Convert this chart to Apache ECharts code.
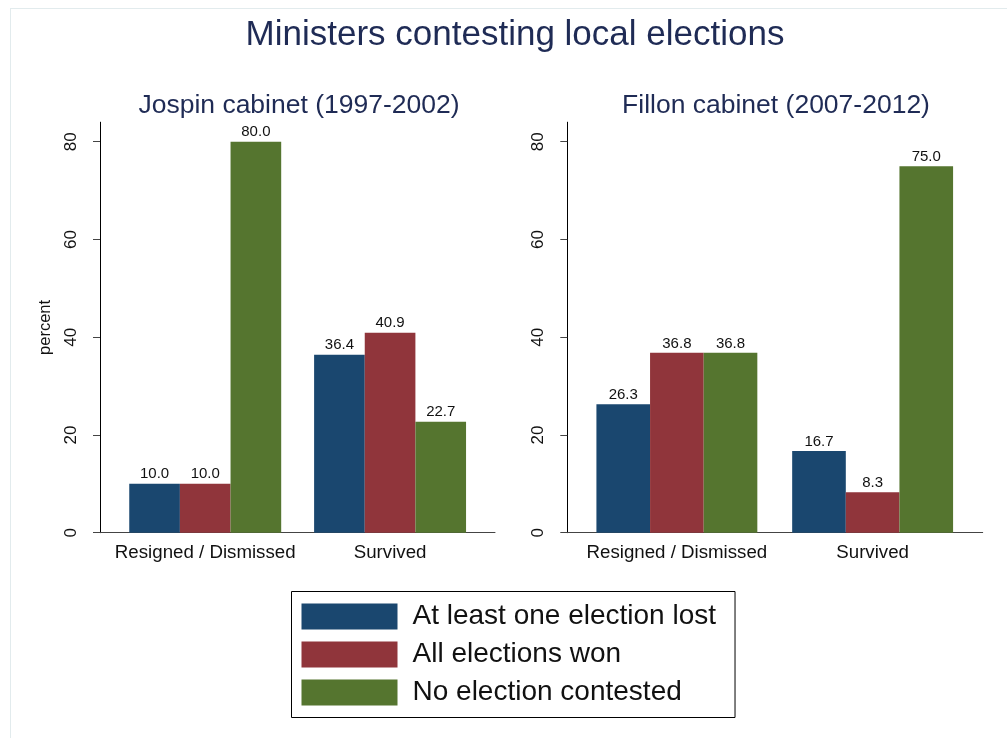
<!DOCTYPE html>
<html>
<head>
<meta charset="utf-8">
<script src="https://cdn.jsdelivr.net/npm/echarts@6/dist/echarts.min.js"></script>
<style>
  html, body { margin: 0; padding: 0; background: #ffffff; }
  #frame { position: absolute; left: 10px; top: 8px; width: 1100px; height: 800px; border: 1px solid #e2ebed; }
  #chart { position: absolute; left: 0; top: 0; width: 1007px; height: 738px; }
</style>
</head>
<body>
<div id="frame"></div>
<div id="chart"></div>
<script>
// ---- data ----
const categories = ['Resigned / Dismissed', 'Survived'];
const seriesNames = ['At least one election lost', 'All elections won', 'No election contested'];
const jospinLost = [10.0, 36.4];
const jospinWon  = [10.0, 40.9];
const jospinNone = [80.0, 22.7];
const fillonLost = [26.3, 16.7];
const fillonWon  = [36.8, 8.3];
const fillonNone = [36.8, 75.0];
const yTicks = [0, 20, 40, 60, 80];
const panelTitles = ['Jospin cabinet (1997-2002)', 'Fillon cabinet (2007-2012)'];
const mainTitle = 'Ministers contesting local elections';

// ---- styles ----
const colors = ['#1a476f', '#90353b', '#55752f'];
const titleColor = '#1f2b55';
const font = 'Liberation Sans, Arial, Helvetica, sans-serif';
const yMax = 84;
const gridTop = 122.2, gridBottom = 205.3;

const chart = echarts.init(document.getElementById('chart'), null, { renderer: 'canvas' });

function frameY(gridIndex, withName) {
  return {
    type: 'value', gridIndex: gridIndex, min: 0, max: yMax,
    name: withName ? 'percent' : '', nameLocation: 'middle', nameGap: 46,
    nameRotate: 90,
    nameTextStyle: { fontFamily: font, fontSize: 16.5, color: '#111' },
    axisLine: { show: true, lineStyle: { color: '#000', width: 1 } },
    axisTick: { show: true, length: 7, lineStyle: { color: '#444' }, customValues: yTicks },
    axisLabel: { show: true, rotate: 90, margin: 20, fontFamily: font, fontSize: 17, color: '#111', customValues: yTicks },
    splitLine: { show: false }
  };
}
function barY(gridIndex) {
  return { type: 'value', gridIndex: gridIndex, min: 0, max: yMax, show: false, splitLine: { show: false } };
}
function frameX(gridIndex) {
  return {
    type: 'category', gridIndex: gridIndex, data: categories,
    axisLine: { show: true, lineStyle: { color: '#444', width: 1 } },
    axisTick: { show: false }, axisLabel: { show: false }, splitLine: { show: false }
  };
}
function barX(gridIndex) {
  return {
    type: 'category', gridIndex: gridIndex, data: categories,
    axisLine: { show: false }, axisTick: { show: false },
    axisLabel: { show: true, interval: 0, hideOverlap: false, margin: 11, fontFamily: font, fontSize: 18.7, color: '#111' },
    splitLine: { show: false }
  };
}
function barSeries(name, data, idx, axisIdx) {
  return {
    type: 'bar', name: name, data: data, xAxisIndex: axisIdx, yAxisIndex: axisIdx,
    barGap: '0%', barCategoryGap: '17.8%',
    itemStyle: { color: colors[idx] },
    label: {
      show: true, position: 'top', distance: 2,
      fontFamily: font, fontSize: 15, color: '#111',
      formatter: p => Number(p.value).toFixed(1)
    }
  };
}

const option = {
  backgroundColor: 'transparent',
  animation: false,
  title: [
    { text: mainTitle, left: 515, top: 18, textAlign: 'center', padding: 0,
      textStyle: { fontFamily: font, fontSize: 35, fontWeight: 'normal', color: titleColor } },
    { text: panelTitles[0], left: 299, top: 92, textAlign: 'center', padding: 0,
      textStyle: { fontFamily: font, fontSize: 26.5, fontWeight: 'normal', color: titleColor } },
    { text: panelTitles[1], left: 776, top: 92, textAlign: 'center', padding: 0,
      textStyle: { fontFamily: font, fontSize: 26.5, fontWeight: 'normal', color: titleColor } }
  ],
  legend: {
    orient: 'vertical', left: 291.5, top: 591.5,
    data: seriesNames,
    icon: 'rect', itemWidth: 96, itemHeight: 26, itemGap: 10,
    padding: [11, 19, 11, 10],
    borderColor: '#000', borderWidth: 1,
    selectedMode: false,
    textStyle: { fontFamily: font, fontSize: 28, color: '#111', padding: [0, 0, 0, 10] }
  },
  grid: [
    { left: 100, width: 395, top: gridTop, bottom: gridBottom },
    { left: 112.8, width: 369.7, top: gridTop, bottom: gridBottom },
    { left: 567.3, width: 415.4, top: gridTop, bottom: gridBottom },
    { left: 579, width: 391.5, top: gridTop, bottom: gridBottom }
  ],
  xAxis: [frameX(0), barX(1), frameX(2), barX(3)],
  yAxis: [frameY(0, true), barY(1), frameY(2, false), barY(3)],
  series: [
    barSeries(seriesNames[0], jospinLost, 0, 1),
    barSeries(seriesNames[1], jospinWon, 1, 1),
    barSeries(seriesNames[2], jospinNone, 2, 1),
    barSeries(seriesNames[0], fillonLost, 0, 3),
    barSeries(seriesNames[1], fillonWon, 1, 3),
    barSeries(seriesNames[2], fillonNone, 2, 3)
  ]
};
chart.setOption(option);
</script>
</body>
</html>
